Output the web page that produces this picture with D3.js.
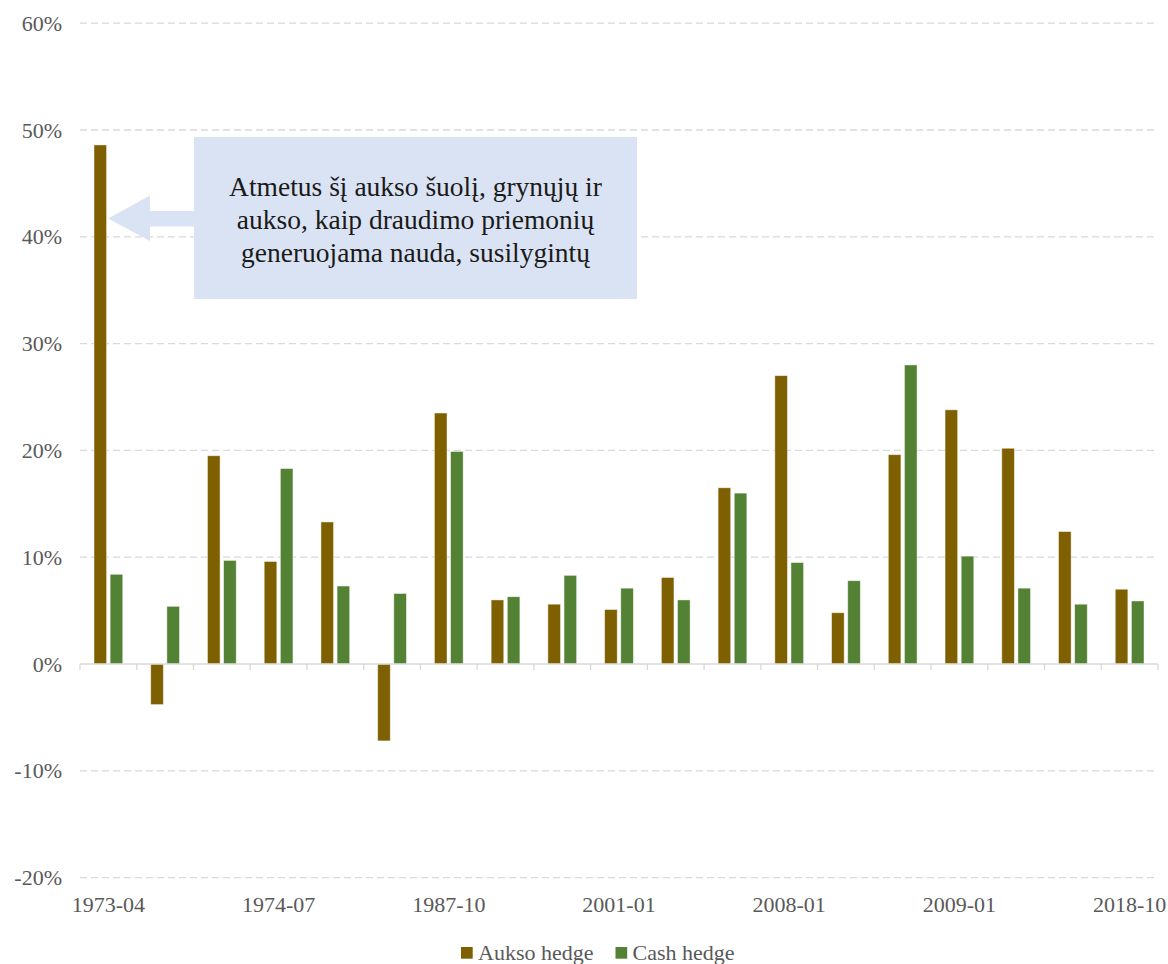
<!DOCTYPE html>
<html>
<head>
<meta charset="utf-8">
<script src="https://cdn.jsdelivr.net/npm/d3@7"></script>
<style>
  html, body { margin: 0; padding: 0; background: #fff; }
  svg { display: block; }
  text { font-family: "Liberation Serif", "DejaVu Serif", serif; }
</style>
</head>
<body>
<svg id="chart" width="1168" height="964"></svg>
<script>
// ---- data ----
const categories = ["1973-04","","","1974-07","","","1987-10","","","2001-01","","","2008-01","","","2009-01","","","2018-10"];
const seriesNames = ["Aukso hedge", "Cash hedge"];
const auksoHedge = [0.486, -0.038, 0.195, 0.096, 0.133, -0.072, 0.235, 0.060, 0.056, 0.051, 0.081, 0.165, 0.270, 0.048, 0.196, 0.238, 0.202, 0.124, 0.070];
const cashHedge  = [0.084, 0.054, 0.097, 0.183, 0.073, 0.066, 0.199, 0.063, 0.083, 0.071, 0.060, 0.160, 0.095, 0.078, 0.280, 0.101, 0.071, 0.056, 0.059];
const yTicks = [-0.2, -0.1, 0, 0.1, 0.2, 0.3, 0.4, 0.5, 0.6];
const annotationLines = ["Atmetus šį aukso šuolį, grynųjų ir", "aukso, kaip draudimo priemonių", "generuojama nauda, susilygintų"];

// ---- styles / layout ----
const colors = { "Aukso hedge": "#7F6000", "Cash hedge": "#548235" };
const plot = { left: 80, right: 1158, top: 23.2, bottom: 877.6 };
const svg = d3.select("#chart");

const x = d3.scaleBand().domain(d3.range(categories.length)).range([plot.left, plot.right]).paddingInner(0).paddingOuter(0);
const xs = d3.scaleBand().domain(seriesNames).range([14, x.bandwidth() - 14]).paddingInner(0.22);
const y = d3.scaleLinear().domain([-0.2, 0.6]).range([plot.bottom, plot.top]);

// gridlines
svg.append("g").selectAll("line").data(yTicks.filter(d => d !== 0)).join("line")
  .attr("x1", plot.left).attr("x2", plot.right)
  .attr("y1", d => y(d)).attr("y2", d => y(d))
  .attr("stroke", "#d9d9d9").attr("stroke-width", 1.3).attr("stroke-dasharray", "7,4");

// y axis labels
const pct = d => Math.round(d * 100) + "%";
const yAxis = d3.axisLeft(y).tickValues(yTicks).tickFormat(pct).tickSize(0).tickPadding(0);
const gy = svg.append("g").attr("transform", "translate(62,0)").call(yAxis);
gy.select(".domain").remove();
gy.selectAll("text").attr("font-size", 22).attr("fill", "#595959")
  .attr("font-family", "Liberation Serif, serif");

// bars
const data = [];
categories.forEach((c, i) => {
  data.push({ i, s: "Aukso hedge", v: auksoHedge[i] });
  data.push({ i, s: "Cash hedge", v: cashHedge[i] });
});
svg.append("g").selectAll("rect").data(data).join("rect")
  .attr("x", d => x(d.i) + xs(d.s))
  .attr("width", xs.bandwidth())
  .attr("y", d => y(Math.max(0, d.v)))
  .attr("height", d => Math.abs(y(d.v) - y(0)))
  .attr("fill", d => colors[d.s])
  .attr("stroke", "rgba(255,255,255,0.55)").attr("stroke-width", 0.8);

// x axis
const xAxis = d3.axisBottom(x).tickSize(0).tickFormat(i => categories[i]);
const gx = svg.append("g").attr("transform", `translate(0,${y(0)})`).call(xAxis);
gx.select(".domain").remove();
gx.selectAll("text").remove();
svg.append("line").attr("x1", plot.left).attr("x2", plot.right).attr("y1", y(0)).attr("y2", y(0))
  .attr("stroke", "#d9d9d9").attr("stroke-width", 1.5);
const edges = d3.range(categories.length + 1).map(i => plot.left + i * x.step());
svg.append("g").selectAll("line").data(edges).join("line")
  .attr("x1", d => d).attr("x2", d => d).attr("y1", y(0)).attr("y2", y(0) + 6)
  .attr("stroke", "#d9d9d9").attr("stroke-width", 1.3);
svg.append("g").selectAll("text").data(categories.map((c, i) => ({ c, i })).filter(d => d.c !== "")).join("text")
  .attr("x", d => x(d.i) + x.bandwidth() / 2)
  .attr("y", 912)
  .attr("text-anchor", "middle")
  .attr("font-size", 22).attr("fill", "#595959")
  .text(d => d.c);

// annotation
const box = { x: 194, y: 137, w: 443, h: 162 };
const ann = svg.append("g");
const tipX = x(0) + xs("Aukso hedge") + xs.bandwidth() + 1.5;
const tipY = 218.5;
ann.append("path")
  .attr("d", `M${tipX},${tipY} L150,195.5 L150,211 L${box.x + 1},211 L${box.x + 1},226.5 L150,226.5 L150,241 Z`)
  .attr("fill", "#DAE3F3");
ann.append("rect").attr("x", box.x).attr("y", box.y).attr("width", box.w).attr("height", box.h).attr("fill", "#DAE3F3");
ann.append("g").selectAll("text").data(annotationLines).join("text")
  .attr("x", box.x + box.w / 2).attr("y", (d, i) => 196 + i * 33)
  .attr("text-anchor", "middle").attr("font-size", 27.5).attr("fill", "#1a1a1a")
  .text(d => d);

// legend
const legendItems = [{ s: "Aukso hedge", x: 461 }, { s: "Cash hedge", x: 615.5 }];
const lg = svg.append("g").selectAll("g").data(legendItems).join("g")
  .attr("transform", d => `translate(${d.x},947)`);
lg.append("rect").attr("width", 11.7).attr("height", 11.7).attr("fill", d => colors[d.s]);
lg.append("text").attr("x", 17).attr("y", 12.5).attr("font-size", 22).attr("fill", "#595959").text(d => d.s);
</script>
</body>
</html>
